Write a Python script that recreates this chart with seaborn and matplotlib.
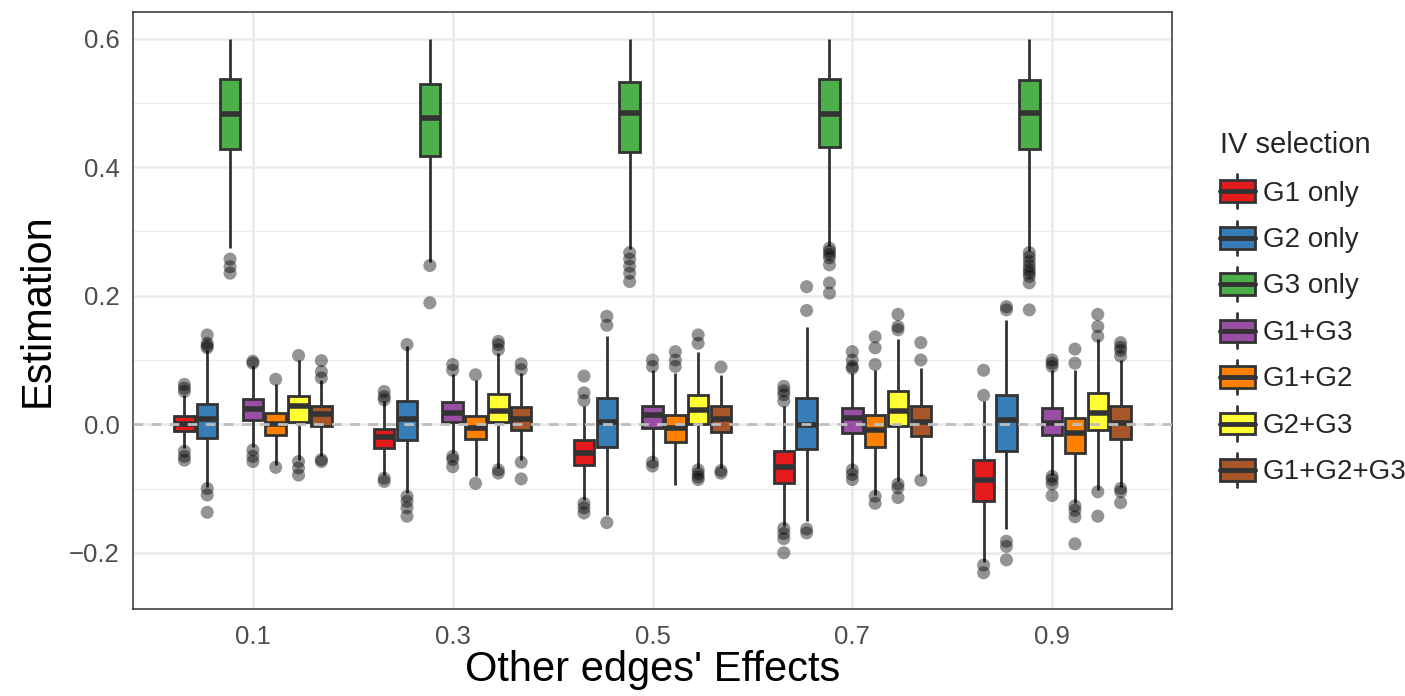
import numpy as np
import pandas as pd
import seaborn as sns
import matplotlib
matplotlib.use("Agg")
import matplotlib.pyplot as plt
from matplotlib.ticker import MultipleLocator
from matplotlib.legend_handler import HandlerBase
from matplotlib.patches import Rectangle
from matplotlib.lines import Line2D

# ---------------- data ----------------
effects = ["0.1", "0.3", "0.5", "0.7", "0.9"]
groups = ["G1 only", "G2 only", "G3 only", "G1+G3", "G1+G2", "G2+G3", "G1+G2+G3"]
colors = ["#E41A1C", "#377EB8", "#4DAF4A", "#984EA3", "#FF7F00", "#FFFF33", "#A65628"]

# rows = groups, columns = effects
whisker_low = [
    [-0.037, -0.079, -0.118, -0.159, -0.214],
    [-0.097, -0.107, -0.141, -0.151, -0.163],
    [0.274, 0.252, 0.272, 0.277, 0.269],
    [-0.035, -0.045, -0.055, -0.068, -0.079],
    [-0.063, -0.081, -0.094, -0.110, -0.123],
    [-0.055, -0.068, -0.068, -0.089, -0.102],
    [-0.050, -0.055, -0.068, -0.081, -0.097],
]
q1 = [
    [-0.010, -0.037, -0.064, -0.091, -0.120],
    [-0.0215, -0.024, -0.035, -0.039, -0.041],
    [0.429, 0.417, 0.424, 0.432, 0.428],
    [0.007, 0.003, -0.006, -0.013, -0.017],
    [-0.016, -0.023, -0.028, -0.036, -0.045],
    [0.003, 0.0034, 0.0008, -0.003, -0.0086],
    [-0.003, -0.0086, -0.012, -0.019, -0.023],
]
median = [
    [0.001, -0.020, -0.044, -0.066, -0.086],
    [0.008, 0.008, 0.003, -0.001, 0.006],
    [0.482, 0.476, 0.485, 0.482, 0.484],
    [0.024, 0.017, 0.014, 0.0096, 0.002],
    [0.001, -0.006, -0.006, -0.009, -0.014],
    [0.028, 0.020, 0.0226, 0.020, 0.017],
    [0.016, 0.008, 0.008, 0.003, 0.002],
]
q3 = [
    [0.013, -0.0075, -0.025, -0.042, -0.055],
    [0.032, 0.036, 0.041, 0.041, 0.046],
    [0.537, 0.530, 0.533, 0.537, 0.535],
    [0.039, 0.034, 0.029, 0.026, 0.025],
    [0.017, 0.013, 0.014, 0.015, 0.0096],
    [0.044, 0.047, 0.046, 0.052, 0.0485],
    [0.028, 0.0267, 0.028, 0.028, 0.028],
]
whisker_high = [
    [0.045, 0.036, 0.028, 0.028, 0.036],
    [0.116, 0.122, 0.137, 0.152, 0.162],
    [0.600, 0.600, 0.600, 0.600, 0.600],
    [0.090, 0.078, 0.085, 0.080, 0.085],
    [0.062, 0.069, 0.080, 0.085, 0.085],
    [0.100, 0.111, 0.113, 0.132, 0.132],
    [0.069, 0.080, 0.077, 0.087, 0.100],
]
outliers = [
    [[0.051, 0.056, 0.062, -0.042, -0.050, -0.056],
     [0.038, 0.043, 0.051, -0.084, -0.089],
     [0.037, 0.049, 0.075, -0.123, -0.130, -0.138],
     [0.036, 0.046, 0.052, 0.059, -0.162, -0.170, -0.178, -0.200],
     [0.045, 0.084, -0.219, -0.231]],
    [[0.119, 0.122, 0.126, 0.139, -0.100, -0.110, -0.137],
     [0.124, -0.112, -0.120, -0.130, -0.143],
     [0.154, 0.168, -0.153],
     [0.177, 0.214, -0.163, -0.169],
     [0.178, 0.183, -0.182, -0.190, -0.211]],
    [[0.257, 0.245, 0.235],
     [0.247, 0.189],
     [0.267, 0.257, 0.246, 0.235, 0.222],
     [0.274, 0.269, 0.264, 0.259, 0.248, 0.220, 0.204],
     [0.267, 0.260, 0.253, 0.246, 0.240, 0.235, 0.230, 0.220, 0.178]],
    [[0.095, 0.098, -0.040, -0.050, -0.058],
     [0.084, 0.093, -0.050, -0.055, -0.066],
     [0.090, 0.100, -0.059, -0.065],
     [0.087, 0.090, 0.100, 0.113, -0.071, -0.078, -0.086],
     [0.090, 0.095, 0.100, -0.081, -0.086, -0.093, -0.111]],
    [[0.070, -0.067],
     [0.077, -0.092],
     [0.090, 0.100, 0.113],
     [0.093, 0.119, 0.136, -0.112, -0.123],
     [0.095, 0.117, -0.127, -0.134, -0.144, -0.186]],
    [[0.107, -0.058, -0.068, -0.079],
     [0.116, 0.124, 0.129, -0.071, -0.076],
     [0.126, 0.139, -0.071, -0.077, -0.082, -0.086],
     [0.147, 0.152, 0.171, -0.093, -0.099, -0.114],
     [0.137, 0.152, 0.171, -0.105, -0.143]],
    [[0.072, 0.082, 0.099, -0.055, -0.058],
     [0.085, 0.094, -0.059, -0.085],
     [0.089, -0.072, -0.076],
     [0.100, 0.127, -0.087],
     [0.106, 0.115, 0.120, 0.127, -0.100, -0.105, -0.122]],
]

# ---------------- tables ----------------
rows = []
for gi, g in enumerate(groups):
    for ei, e in enumerate(effects):
        for v in (whisker_low[gi][ei], q1[gi][ei], median[gi][ei],
                  q3[gi][ei], whisker_high[gi][ei]):
            rows.append((e, g, v))
box_df = pd.DataFrame(rows, columns=["effect", "group", "value"])

orows = []
for gi, g in enumerate(groups):
    for ei, e in enumerate(effects):
        for v in outliers[gi][ei]:
            orows.append((e, g, v))
out_df = pd.DataFrame(orows, columns=["effect", "group", "value"])

# ---------------- style ----------------
sns.set_style("white")
plt.rcParams["font.family"] = ["Liberation Sans", "DejaVu Sans"]

fig = plt.figure(figsize=(14.05, 6.96), dpi=100)
ax = fig.add_axes([133 / 1405, 1 - 609 / 696, (1172 - 133) / 1405, (609 - 12) / 696])

dark = "#333333"
palette = dict(zip(groups, colors))

sns.boxplot(
    data=box_df, x="effect", y="value", hue="group",
    order=effects, hue_order=groups, palette=palette, saturation=1,
    whis=(0, 100), showfliers=False, showcaps=False,
    width=0.8, gap=0.1, linewidth=2.0, linecolor=dark,
    medianprops={"linewidth": 4.0, "color": dark},
    legend=False, ax=ax, zorder=3,
)

sns.stripplot(
    data=out_df, x="effect", y="value", hue="group",
    order=effects, hue_order=groups, palette={g: "black" for g in groups},
    dodge=True, jitter=False, size=9.4, alpha=0.42, linewidth=0,
    legend=False, ax=ax, zorder=4,
)

ax.axhline(0, color="#BEBEBE", lw=2.0, ls=(0, (3.5, 3)), zorder=5)

ax.set_xlim(-0.6, 4.6)
ax.set_ylim(-0.2874, 0.6414)
ax.yaxis.set_minor_locator(MultipleLocator(0.1))
ax.set_yticks([-0.2, 0.0, 0.2, 0.4, 0.6])
ax.set_yticklabels(["\u22120.2", "0.0", "0.2", "0.4", "0.6"])

ax.set_axisbelow(True)
ax.grid(True, which="major", color="#EBEBEB", lw=1.8, zorder=0)
ax.grid(True, which="minor", axis="y", color="#EBEBEB", lw=0.9, zorder=0)

for s in ax.spines.values():
    s.set_visible(True)
    s.set_color(dark)
    s.set_linewidth(1.1)

ax.tick_params(axis="both", which="major", length=3.5, width=1.1, color=dark,
               labelsize=18.5, labelcolor="#4D4D4D", direction="out")
ax.tick_params(axis="x", which="major", pad=8)
ax.tick_params(axis="y", which="major", pad=6)
ax.tick_params(axis="y", which="minor", length=0)

ax.set_xlabel("Other edges' Effects", fontsize=30, color="black", labelpad=1)
ax.set_ylabel("Estimation", fontsize=30, color="black", labelpad=8)


# ---------------- legend ----------------
class BoxHandler(HandlerBase):
    def create_artists(self, legend, orig_handle, xdescent, ydescent,
                       width, height, fontsize, trans):
        fc = orig_handle.get_facecolor()
        x0, y0 = -xdescent, -ydescent
        bl, bh = y0 + height * 0.15, height * 0.70
        wl = Line2D([x0 + width / 2] * 2, [y0 - height * 0.05, bl], color=dark, lw=2.0, transform=trans)
        wu = Line2D([x0 + width / 2] * 2, [bl + bh, y0 + height * 1.05], color=dark, lw=2.0, transform=trans)
        box = Rectangle((x0, bl), width, bh, facecolor=fc, edgecolor=dark,
                        lw=2.0, transform=trans)
        med = Line2D([x0, x0 + width], [y0 + height / 2] * 2, color=dark,
                     lw=3.5, transform=trans)
        return [wl, wu, box, med]


handles = [Rectangle((0, 0), 1, 1, facecolor=c) for c in colors]
leg = fig.legend(
    handles, groups, loc="upper left",
    bbox_to_anchor=(1220 / 1405, 1 - 131 / 696), bbox_transform=fig.transFigure,
    frameon=False, title="IV selection", title_fontsize=21, fontsize=20,
    handler_map={Rectangle: BoxHandler()},
    handlelength=1.25, handleheight=1.35, labelspacing=0.55,
    handletextpad=0.3, borderpad=0, borderaxespad=0, alignment="left",
)
leg._legend_box.sep = 12

fig.savefig("out.png", dpi=100)
